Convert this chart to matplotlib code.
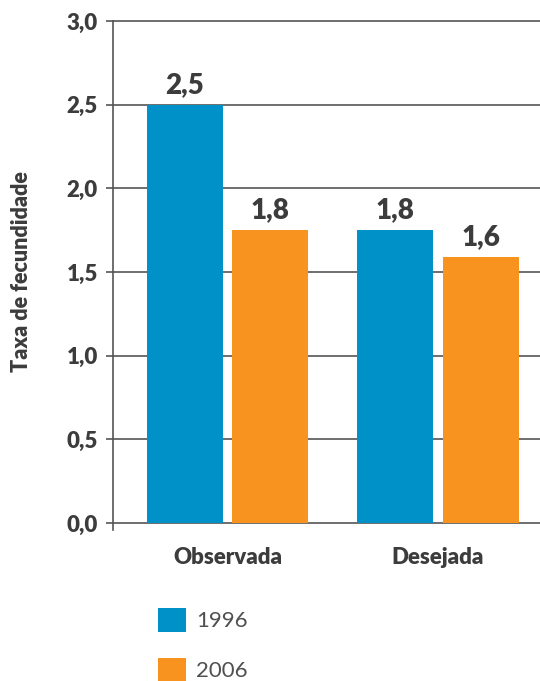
import numpy as np
import matplotlib
matplotlib.use('Agg')
import matplotlib.pyplot as plt

categories = ['Observada', 'Desejada']
years = ['1996', '2006']
values_1996 = [2.50, 1.75]
values_2006 = [1.75, 1.59]
labels_1996 = ['2,5', '1,8']
labels_2006 = ['1,8', '1,6']
yticks = [0.0, 0.5, 1.0, 1.5, 2.0, 2.5, 3.0]

BLUE = '#0091c9'
ORANGE = '#f7931e'
TEXT = '#3c3c3c'
LINE = '#555555'
WEIGHT = 'heavy'

plt.rcParams['font.family'] = ['Lato', 'DejaVu Sans']

fig = plt.figure(figsize=(5.4, 6.81), dpi=100)
ax = fig.add_axes([113 / 540, 1 - 523 / 681 - 7 / 681, 427 / 540, (523 - 21) / 681 + 7 / 681])

x = np.arange(len(categories))
w = 0.361
off = 0.204
b1 = ax.bar(x - off, values_1996, w, color=BLUE, zorder=3, label=years[0])
b2 = ax.bar(x + off, values_2006, w, color=ORANGE, zorder=3, label=years[1])

for bars, labs in ((b1, labels_1996), (b2, labels_2006)):
    for r, lab in zip(bars, labs):
        ax.annotate(lab, (r.get_x() + r.get_width() / 2, r.get_height()),
                    xytext=(0, 5), textcoords='offset points', ha='center', va='bottom',
                    fontsize=20, fontweight=WEIGHT, color=TEXT)

ax.set_ylim(-0.042, 3.0)
ax.set_xlim(-0.544, 1.485)
ax.set_yticks(yticks)
ax.set_yticklabels([f'{v:.1f}'.replace('.', ',') for v in yticks],
                   fontsize=16, fontweight=WEIGHT, color=TEXT)
ax.set_xticks(x)
ax.set_xticklabels(categories, fontsize=16, fontweight=WEIGHT, color=TEXT)
ax.tick_params(axis='x', length=0, pad=12)
ax.tick_params(axis='y', length=5, width=1.2, color=LINE, pad=6)

ax.grid(axis='y', color=LINE, lw=1.2, zorder=1)
ax.set_axisbelow(True)
for gl in ax.get_ygridlines():
    gl.set_clip_on(False)
for s in ('top', 'right', 'bottom'):
    ax.spines[s].set_visible(False)
ax.spines['left'].set_color(LINE)
ax.spines['left'].set_linewidth(1.2)

fig.text(22 / 540, 1 - 272 / 681, 'Taxa de fecundidade', rotation=90, ha='center', va='center',
         fontsize=15.5, fontweight=WEIGHT, color=TEXT)

leg = fig.legend(handles=[b1, b2], loc='upper left', bbox_to_anchor=(158 / 540, 1 - 608 / 681),
                 frameon=False, fontsize=16, handlelength=1.25, handleheight=1.25,
                 handletextpad=0.45, labelspacing=1.2, borderpad=0, borderaxespad=0)
for t in leg.get_texts():
    t.set_color('#505050')

fig.savefig('out.png', dpi=100)
